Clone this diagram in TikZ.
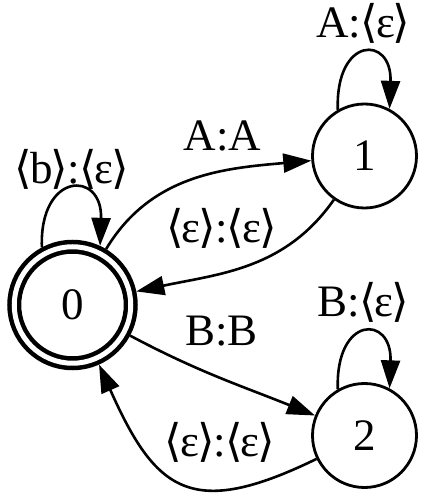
\documentclass[tikz,border=0pt]{standalone}
\usepackage{fontspec}
\setmainfont{Liberation Serif}
\newfontfamily\brfont{DejaVu Sans}
\usetikzlibrary{arrows.meta}

\newcommand{\tok}[1]{{\brfont\kern-1pt⟨\kern-2pt}#1{\brfont\kern-2pt⟩\kern-1pt}}

\begin{document}
\begin{tikzpicture}
      [x=1pt,y=1pt
      ,txt/.style={font=\fontsize{45}{50}\selectfont,inner sep=0}
      ,st/.style={circle,draw,line width=2.8pt,inner sep=0,minimum size=104pt}
      ,fin/.style={circle,draw,line width=4.5pt,double,double distance=5pt,inner sep=0,minimum size=116.5pt,outer sep=7pt}
      ,lin/.style={line width=2.6pt,-{Triangle[length=28pt,width=19pt]}}]
        \useasboundingbox (0,0) rectangle (425,496);
        \coordinate (C0) at (72.5,191);
        \coordinate (C1) at (364.5,340);
        \coordinate (C2) at (364.5,60.5);
        \node[fin,txt] (q0) at (C0) {0};
        \node[st,txt]  (q1) at (C1) {1};
        \node[st,txt]  (q2) at (C2) {2};
        \draw[lin] (q0) to[out=59,in=185] (q1);
        \draw[lin] (q1) to[out=235,in=12] (q0);
        \draw[lin] (q0) to[out=-28,in=158] (q2);
        \draw[lin] (q2) to[out=206,in=-66,looseness=1.5] (q0);
        \foreach \q/\a/\b/\d in {q0/118/65/76,q1/120/62/74,q2/120/62/74}{
          \draw[lin] (\q.\a) .. controls +(92:\d) and +(88:\d) .. (\q.\b);
        }
        \node[txt] (l0)  at (72,327)    {\tok{b}:\tok{ε}};
        \node[txt] (l1)  at (363,473)   {A:\tok{ε}};
        \node[txt] (l2)  at (363,193.5) {B:\tok{ε}};
        \node[txt] (l01) at (222.5,360) {A:A};
        \node[txt] (l10) at (221.5,268) {\tok{ε}:\tok{ε}};
        \node[txt] (l02) at (221.5,165) {B:B};
        \node[txt] (l20) at (220,54)    {\tok{ε}:\tok{ε}};
      \end{tikzpicture}
\end{document}
